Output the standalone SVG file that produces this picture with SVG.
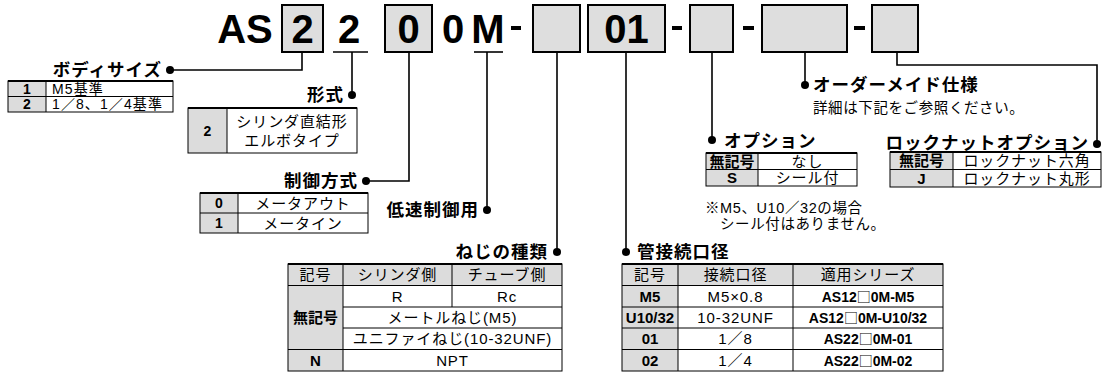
<svg xmlns="http://www.w3.org/2000/svg" width="1105" height="378" viewBox="0 0 1105 378">
<style>
text{font-family:"Liberation Sans","Noto Sans CJK JP",sans-serif;fill:#000}
.hd{font-size:40px;font-weight:bold;text-anchor:middle}
.t{font-size:17.5px;font-weight:bold;letter-spacing:1px}
.s{font-size:14.5px;letter-spacing:0.6px}
.c{font-size:15px;letter-spacing:0.9px;text-anchor:middle}
.cl{font-size:14px;letter-spacing:1.1px}
.k{font-size:15px;font-weight:bold;text-anchor:middle}
.r{font-size:14px;font-weight:bold;text-anchor:middle}
.sq{font-family:"Noto Sans CJK JP",sans-serif;font-weight:normal}
.bx{fill:#dedede;stroke:#000;stroke-width:2}
.g{fill:#dcdcdc;stroke:none}
.tb{fill:none;stroke:#000;stroke-width:1}
.tt{stroke:#000;stroke-width:2}
.ln{fill:none;stroke:#000;stroke-width:1.6}
.dt{fill:#000}
.ul{stroke:#000;stroke-width:1.6}
</style>

<g id="header">
  <text class="hd" x="245" y="43">AS</text>
  <rect class="bx" x="282" y="5" width="41" height="47"/>
  <text class="hd" x="302.5" y="43">2</text>
  <text class="hd" x="349" y="43">2</text>
  <line class="ul" x1="333" y1="52" x2="368" y2="52"/>
  <rect class="bx" x="385" y="5" width="47" height="47"/>
  <text class="hd" x="408.5" y="43">0</text>
  <text class="hd" x="453" y="43">0</text>
  <text class="hd" x="488" y="43">M</text>
  <line class="ul" x1="474" y1="52" x2="503" y2="52"/>
  <rect x="511" y="26" width="10" height="4"/>
  <rect class="bx" x="533" y="5" width="47" height="47"/>
  <rect class="bx" x="588" y="5" width="77" height="47"/>
  <text class="hd" x="626.5" y="43">01</text>
  <rect x="672" y="26" width="10" height="4"/>
  <rect class="bx" x="690" y="5" width="43" height="47"/>
  <rect x="743" y="26" width="11" height="4"/>
  <rect class="bx" x="762" y="5" width="85" height="47"/>
  <rect x="854" y="26" width="11" height="4"/>
  <rect class="bx" x="872" y="5" width="46" height="47"/>
</g>

<g id="connectors">
  <path class="ln" d="M302,52 V70 H170"/><circle class="dt" cx="170" cy="70" r="4"/>
  <path class="ln" d="M352,52 V95"/><circle class="dt" cx="352" cy="95" r="4"/>
  <path class="ln" d="M409,52 V181 H366"/><circle class="dt" cx="366" cy="181" r="4"/>
  <path class="ln" d="M487,52 V210"/><circle class="dt" cx="487" cy="210" r="4"/>
  <path class="ln" d="M557,52 V252"/><circle class="dt" cx="557" cy="252" r="4"/>
  <path class="ln" d="M626,52 V252"/><circle class="dt" cx="626" cy="252" r="4"/>
  <path class="ln" d="M712,52 V140"/><circle class="dt" cx="712" cy="140" r="4"/>
  <path class="ln" d="M805,52 V85"/><circle class="dt" cx="805" cy="85" r="4"/>
  <path class="ln" d="M897,52 V65 H1097 V144"/><circle class="dt" cx="1097" cy="144" r="4"/>
</g>

<g id="body-size">
  <text class="t" x="162" y="76" text-anchor="end">ボディサイズ</text>
  <rect class="g" x="8" y="81" width="38" height="31"/>
  <rect class="tb" x="8" y="81" width="165" height="31"/>
  <line class="tt" x1="8" y1="81" x2="173" y2="81"/>
  <line class="tb" x1="8" y1="96.5" x2="173" y2="96.5"/>
  <line class="tb" x1="46" y1="81" x2="46" y2="112"/>
  <text class="r" x="27" y="93.8">1</text>
  <text class="r" x="27" y="109.3">2</text>
  <text class="cl" x="52" y="93.8">M5基準</text>
  <text class="cl" x="52" y="109.3">1／8、1／4基準</text>
</g>

<g id="type">
  <text class="t" x="344" y="101" text-anchor="end">形式</text>
  <rect class="g" x="188" y="108" width="39" height="45"/>
  <rect class="tb" x="188" y="108" width="169" height="45"/>
  <line class="tt" x1="188" y1="108" x2="357" y2="108"/>
  <line class="tb" x1="227" y1="108" x2="227" y2="153"/>
  <text class="r" x="207.5" y="135.5">2</text>
  <text class="c" x="292" y="127">シリンダ直結形</text>
  <text class="c" x="292" y="146">エルボタイプ</text>
</g>

<g id="control">
  <text class="t" x="358" y="187" text-anchor="end">制御方式</text>
  <rect class="g" x="200" y="193" width="38" height="40"/>
  <rect class="tb" x="200" y="193" width="168" height="40"/>
  <line class="tt" x1="200" y1="193" x2="368" y2="193"/>
  <line class="tb" x1="200" y1="213" x2="368" y2="213"/>
  <line class="tb" x1="238" y1="193" x2="238" y2="233"/>
  <text class="r" x="219" y="208">0</text>
  <text class="r" x="219" y="228">1</text>
  <text class="c" x="303" y="208.5">メータアウト</text>
  <text class="c" x="303" y="228.5">メータイン</text>
</g>

<g id="low-speed">
  <text class="t" x="479" y="216" text-anchor="end">低速制御用</text>
</g>

<g id="thread">
  <text class="t" x="548" y="258" text-anchor="end">ねじの種類</text>
  <rect class="g" x="288" y="264" width="274" height="21.5"/>
  <rect class="g" x="288" y="285.5" width="55" height="85.5"/>
  <rect class="tb" x="288" y="264" width="274" height="107"/>
  <line class="tt" x1="288" y1="264" x2="562" y2="264"/>
  <line class="tb" x1="288" y1="285.5" x2="562" y2="285.5"/>
  <line class="tb" x1="343" y1="307" x2="562" y2="307"/>
  <line class="tb" x1="343" y1="328" x2="562" y2="328"/>
  <line class="tb" x1="288" y1="349.5" x2="562" y2="349.5"/>
  <line class="tb" x1="343" y1="264" x2="343" y2="371"/>
  <line class="tb" x1="452" y1="264" x2="452" y2="307"/>
  <text class="c" x="315.5" y="280">記号</text>
  <text class="c" x="397.5" y="280">シリンダ側</text>
  <text class="c" x="507" y="280">チューブ側</text>
  <text class="c" x="397.5" y="301.5">R</text>
  <text class="c" x="507" y="301.5">Rc</text>
  <text class="k" x="315.5" y="323">無記号</text>
  <text class="c" x="452.5" y="322.5">メートルねじ(M5)</text>
  <text class="c" x="452.5" y="344">ユニファイねじ(10-32UNF)</text>
  <text class="k" x="315.5" y="365.5">N</text>
  <text class="c" x="452.5" y="365.5">NPT</text>
</g>

<g id="port-size">
  <text class="t" x="637" y="258">管接続口径</text>
  <rect class="g" x="622" y="264" width="321" height="21.5"/>
  <rect class="g" x="622" y="285.5" width="56" height="85.5"/>
  <rect class="tb" x="622" y="264" width="321" height="107"/>
  <line class="tt" x1="622" y1="264" x2="943" y2="264"/>
  <line class="tb" x1="622" y1="285.5" x2="943" y2="285.5"/>
  <line class="tb" x1="622" y1="307" x2="943" y2="307"/>
  <line class="tb" x1="622" y1="328" x2="943" y2="328"/>
  <line class="tb" x1="622" y1="349.5" x2="943" y2="349.5"/>
  <line class="tb" x1="678" y1="264" x2="678" y2="371"/>
  <line class="tb" x1="793" y1="264" x2="793" y2="371"/>
  <text class="c" x="650" y="280">記号</text>
  <text class="c" x="735.5" y="280">接続口径</text>
  <text class="c" x="868" y="280">適用シリーズ</text>
  <text class="k" x="650" y="301.5">M5</text>
  <text class="c" x="735.5" y="301.5">M5×0.8</text>
  <text class="r" x="868" y="301.5">AS12<tspan class="sq">□</tspan>0M-M5</text>
  <text class="k" x="650" y="323">U10/32</text>
  <text class="c" x="735.5" y="323">10-32UNF</text>
  <text class="r" x="868" y="323">AS12<tspan class="sq">□</tspan>0M-U10/32</text>
  <text class="k" x="650" y="344">01</text>
  <text class="c" x="735.5" y="344">1／8</text>
  <text class="r" x="868" y="344">AS22<tspan class="sq">□</tspan>0M-01</text>
  <text class="k" x="650" y="365.5">02</text>
  <text class="c" x="735.5" y="365.5">1／4</text>
  <text class="r" x="868" y="365.5">AS22<tspan class="sq">□</tspan>0M-02</text>
</g>

<g id="option">
  <text class="t" x="724" y="147">オプション</text>
  <rect class="g" x="706" y="153" width="52" height="33"/>
  <rect class="tb" x="706" y="153" width="151" height="33"/>
  <line class="tt" x1="706" y1="153" x2="857" y2="153"/>
  <line class="tb" x1="706" y1="169.5" x2="857" y2="169.5"/>
  <line class="tb" x1="758" y1="153" x2="758" y2="186"/>
  <text class="k" x="732" y="166.5">無記号</text>
  <text class="k" x="732" y="183">S</text>
  <text class="c" x="807.5" y="166.5">なし</text>
  <text class="c" x="807.5" y="183">シール付</text>
  <text class="s" x="705" y="213">※M5、U10／32の場合</text>
  <text class="s" x="720" y="229">シール付はありません。</text>
</g>

<g id="made-to-order">
  <text class="t" x="813" y="91">オーダーメイド仕様</text>
  <text class="s" x="813" y="113">詳細は下記をご参照ください。</text>
</g>

<g id="locknut">
  <text class="t" x="1089" y="149" text-anchor="end">ロックナットオプション</text>
  <rect class="g" x="890" y="152" width="63" height="35"/>
  <rect class="tb" x="890" y="152" width="211" height="35"/>
  <line class="tt" x1="890" y1="152" x2="1101" y2="152"/>
  <line class="tb" x1="890" y1="169.5" x2="1101" y2="169.5"/>
  <line class="tb" x1="953" y1="152" x2="953" y2="187"/>
  <text class="k" x="921.5" y="166">無記号</text>
  <text class="k" x="921.5" y="183.5">J</text>
  <text class="c" x="1027" y="166">ロックナット六角</text>
  <text class="c" x="1027" y="183.5">ロックナット丸形</text>
</g>
</svg>
